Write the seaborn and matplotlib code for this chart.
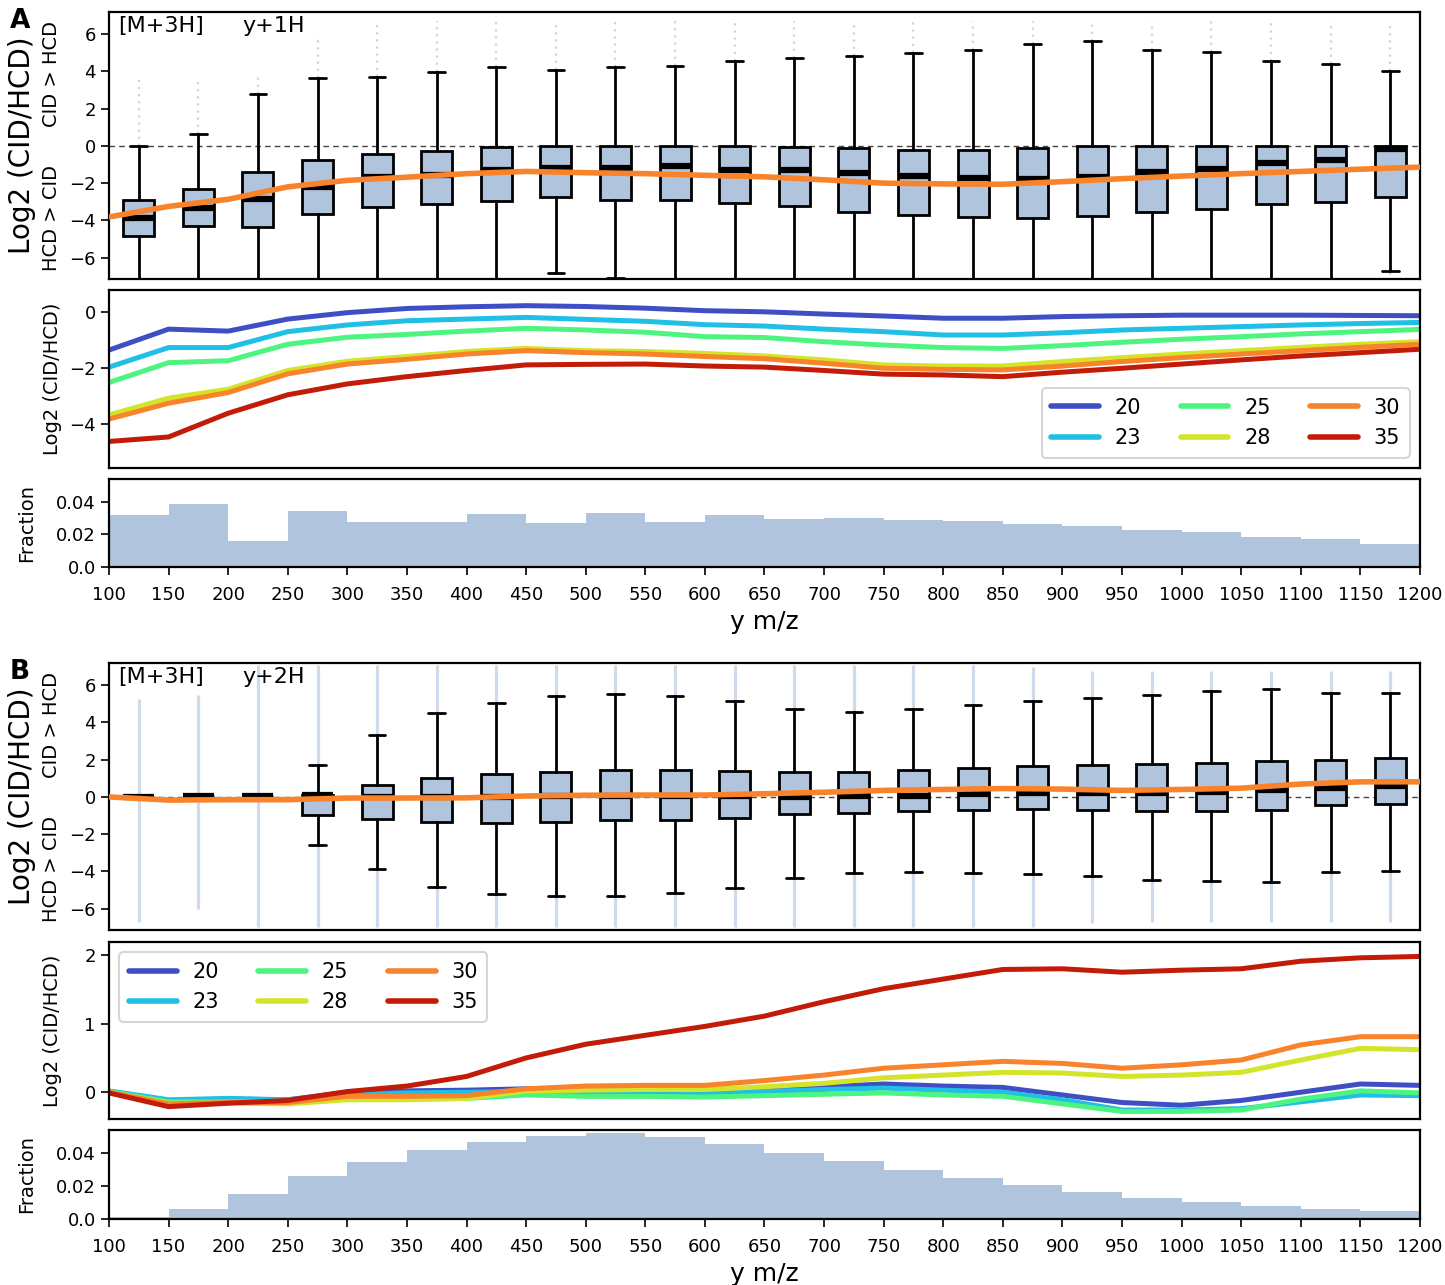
import numpy as np
import pandas as pd
import matplotlib
matplotlib.use("Agg")
import matplotlib.pyplot as plt
import seaborn as sns

sns.set_theme(style="ticks")
plt.rcParams["font.family"] = ["DejaVu Sans"]
plt.rcParams["axes.edgecolor"] = "black"
plt.rcParams["axes.linewidth"] = 1.6
plt.rcParams["text.color"] = "black"
plt.rcParams["axes.labelcolor"] = "black"
plt.rcParams["xtick.color"] = "black"
plt.rcParams["ytick.color"] = "black"

# ---------------------------------------------------------------- data
mz_grid = [100, 150, 200, 250, 300, 350, 400, 450, 500, 550, 600, 650,
           700, 750, 800, 850, 900, 950, 1000, 1050, 1100, 1150, 1200]
bin_edges = mz_grid
bin_centers = [125, 175, 225, 275, 325, 375, 425, 475, 525, 575, 625,
               675, 725, 775, 825, 875, 925, 975, 1025, 1075, 1125, 1175]
energies = ["20", "23", "25", "28", "30", "35"]
ce_colors = ["#3e4fc6", "#1fbfe6", "#4df580", "#d3e52b", "#f8832a", "#c21c08"]

# y+1H: median log2(CID/HCD) per collision energy
a_ce20 = [-1.35, -0.60, -0.67, -0.24, -0.01, 0.14, 0.20, 0.24, 0.21, 0.15, 0.06, 0.02,
          -0.06, -0.13, -0.21, -0.21, -0.15, -0.12, -0.10, -0.10, -0.10, -0.11, -0.12]
a_ce23 = [-1.96, -1.26, -1.26, -0.69, -0.45, -0.30, -0.24, -0.18, -0.25, -0.32, -0.44, -0.49,
          -0.60, -0.69, -0.81, -0.81, -0.73, -0.63, -0.57, -0.51, -0.45, -0.40, -0.36]
a_ce25 = [-2.51, -1.80, -1.73, -1.14, -0.89, -0.79, -0.67, -0.57, -0.63, -0.71, -0.87, -0.90,
          -1.05, -1.17, -1.26, -1.29, -1.19, -1.07, -0.96, -0.87, -0.77, -0.69, -0.61]
a_ce28 = [-3.67, -3.07, -2.75, -2.08, -1.75, -1.58, -1.40, -1.29, -1.37, -1.40, -1.47, -1.56,
          -1.70, -1.88, -1.92, -1.92, -1.76, -1.62, -1.49, -1.37, -1.25, -1.14, -1.05]
a_ce30 = [-3.82, -3.25, -2.87, -2.20, -1.85, -1.68, -1.49, -1.37, -1.44, -1.49, -1.58, -1.66,
          -1.82, -2.00, -2.04, -2.06, -1.92, -1.76, -1.62, -1.49, -1.37, -1.25, -1.14]
a_ce35 = [-4.62, -4.46, -3.61, -2.95, -2.56, -2.30, -2.08, -1.88, -1.86, -1.85, -1.92, -1.96,
          -2.08, -2.21, -2.24, -2.30, -2.14, -2.00, -1.85, -1.70, -1.56, -1.44, -1.32]

# y+2H
b_ce20 = [0.01, -0.12, -0.10, -0.11, 0.00, 0.02, 0.03, 0.05, 0.04, 0.04, 0.04, 0.05,
          0.08, 0.12, 0.09, 0.07, -0.04, -0.15, -0.19, -0.12, 0.00, 0.12, 0.10]
b_ce23 = [0.02, -0.11, -0.09, -0.11, -0.04, -0.01, 0.00, 0.01, -0.01, -0.01, -0.01, 0.01,
          0.04, 0.06, 0.03, 0.00, -0.11, -0.26, -0.26, -0.24, -0.14, -0.04, -0.05]
b_ce25 = [0.01, -0.14, -0.14, -0.14, -0.10, -0.10, -0.09, -0.04, -0.06, -0.06, -0.07, -0.05,
          -0.03, -0.01, -0.04, -0.06, -0.17, -0.28, -0.28, -0.26, -0.10, 0.02, -0.01]
b_ce28 = [0.00, -0.16, -0.16, -0.17, -0.11, -0.11, -0.09, 0.02, 0.03, 0.04, 0.04, 0.08,
          0.13, 0.21, 0.25, 0.29, 0.28, 0.23, 0.25, 0.29, 0.47, 0.64, 0.62]
b_ce30 = [0.00, -0.17, -0.15, -0.15, -0.06, -0.06, -0.05, 0.05, 0.09, 0.10, 0.10, 0.17,
          0.25, 0.35, 0.40, 0.45, 0.42, 0.35, 0.40, 0.47, 0.69, 0.81, 0.81]
b_ce35 = [-0.01, -0.21, -0.16, -0.12, 0.01, 0.09, 0.23, 0.50, 0.70, 0.83, 0.96, 1.11,
          1.32, 1.51, 1.65, 1.79, 1.80, 1.75, 1.78, 1.80, 1.91, 1.96, 1.98]

# fraction of fragments per m/z bin
frac_a = [0.0317, 0.0384, 0.0162, 0.0341, 0.0274, 0.0278, 0.0325, 0.0272, 0.0329, 0.0278, 0.0318,
          0.0292, 0.0300, 0.0288, 0.0284, 0.0266, 0.0250, 0.0227, 0.0213, 0.0185, 0.0173, 0.0142]
frac_b = [0.0010, 0.0061, 0.0154, 0.0258, 0.0347, 0.0420, 0.0467, 0.0502, 0.0520, 0.0495, 0.0453,
          0.0402, 0.0351, 0.0296, 0.0248, 0.0203, 0.0162, 0.0130, 0.0102, 0.0081, 0.0059, 0.0047]

# box statistics per bin (y+1H)
a_whislo = [-7.5, -7.5, -7.5, -7.5, -7.5, -7.5, -7.2, -6.83, -7.1, -7.16, -7.5,
            -7.5, -7.5, -7.5, -7.5, -7.5, -7.5, -7.5, -7.5, -7.5, -7.5, -6.71]
a_q1 = [-4.86, -4.33, -4.37, -3.66, -3.26, -3.10, -2.94, -2.76, -2.88, -2.90, -3.08,
        -3.24, -3.53, -3.70, -3.84, -3.90, -3.79, -3.53, -3.41, -3.12, -2.99, -2.76]
a_med = [-3.88, -3.34, -2.86, -2.21, -1.67, -1.58, -1.30, -1.16, -1.18, -1.09, -1.27,
         -1.31, -1.47, -1.63, -1.72, -1.76, -1.67, -1.41, -1.25, -0.91, -0.73, -0.18]
a_q3 = [-2.90, -2.32, -1.41, -0.74, -0.42, -0.25, -0.04, 0.0, 0.0, 0.0, 0.0,
        -0.04, -0.13, -0.22, -0.22, -0.13, 0.0, 0.0, 0.0, 0.0, 0.0, 0.0]
a_whishi = [0.0, 0.65, 2.79, 3.64, 3.70, 3.95, 4.26, 4.08, 4.26, 4.28, 4.55,
            4.71, 4.84, 4.98, 5.18, 5.49, 5.62, 5.18, 5.04, 4.59, 4.39, 4.02]
a_flier_hi = [3.77, 3.64, 3.90, 5.95, 6.49, 6.70, 6.70, 6.70, 6.70, 6.70, 6.70,
              6.70, 6.70, 6.70, 6.70, 6.70, 6.70, 6.70, 6.70, 6.60, 6.70, 6.67]
a_flier_lo = [-7.3] * 22

# box statistics per bin (y+2H)
b_whislo = [0.02, 0.03, 0.05, -2.56, -3.86, -4.83, -5.23, -5.35, -5.30, -5.19, -4.88,
            -4.38, -4.11, -4.02, -4.09, -4.13, -4.25, -4.45, -4.50, -4.58, -4.02, -3.98]
b_q1 = [0.02, 0.03, 0.05, -0.97, -1.17, -1.35, -1.39, -1.33, -1.26, -1.23, -1.12,
        -0.94, -0.85, -0.77, -0.70, -0.65, -0.68, -0.76, -0.76, -0.72, -0.45, -0.36]
b_med = [0.02, 0.03, 0.05, 0.10, -0.02, -0.02, 0.00, 0.03, 0.04, 0.04, 0.05,
         0.00, 0.05, 0.07, 0.14, 0.23, 0.23, 0.23, 0.27, 0.38, 0.50, 0.56]
b_q3 = [0.02, 0.03, 0.05, 0.12, 0.63, 1.03, 1.21, 1.35, 1.46, 1.44, 1.37,
        1.32, 1.32, 1.42, 1.55, 1.68, 1.73, 1.77, 1.82, 1.91, 1.96, 2.07]
b_whishi = [0.02, 0.03, 0.05, 1.71, 3.33, 4.50, 5.05, 5.41, 5.53, 5.42, 5.17,
            4.74, 4.58, 4.70, 4.94, 5.15, 5.33, 5.48, 5.68, 5.82, 5.59, 5.60]
b_flier_hi = [5.28, 5.46, 7.1, 7.1, 7.1, 7.1, 7.1, 7.1, 7.1, 7.1, 7.1,
              7.1, 7.1, 7.1, 7.1, 7.0, 6.75, 6.75, 6.75, 6.75, 6.75, 6.75]
b_flier_lo = [-6.70, -6.00, -7.0, -7.0, -7.0, -7.0, -7.0, -7.0, -7.0, -7.0, -7.0,
              -7.0, -7.0, -7.0, -7.0, -6.97, -6.8, -6.7, -6.7, -6.7, -6.7, -6.7]

xtick_vals = list(range(100, 1201, 50))

BOX_FILL = "#b0c4de"
ORANGE = "#f8832a"


def ratio_frame(series):
    rows = []
    for ce, vals in zip(energies, series):
        for mz, v in zip(mz_grid, vals):
            rows.append({"mz": mz, "log2": v, "ce": ce})
    return pd.DataFrame(rows)


def draw_boxes(ax, whislo, q1, med, q3, whishi, flo, fhi, dense, ion, frag, letter, mid30):
    # outlier columns
    ls = "solid" if dense else (0, (1, 2.2))
    lw = 2.3 if dense else 1.6
    alpha = 0.6 if dense else 0.7
    ax.vlines(bin_centers, whishi, fhi, colors=BOX_FILL, linestyles=ls, lw=lw, alpha=alpha, zorder=1)
    ax.vlines(bin_centers, flo, whislo, colors=BOX_FILL, linestyles=ls, lw=lw, alpha=alpha, zorder=1)
    ax.axhline(0, color="#444444", lw=1, ls=(0, (4, 3)), zorder=1.5)
    stats = [dict(whislo=a, q1=b, med=c, q3=d, whishi=e, fliers=[])
             for a, b, c, d, e in zip(whislo, q1, med, q3, whishi)]
    ax.bxp(stats, positions=bin_centers, widths=26, capwidths=14, patch_artist=True,
           showfliers=False, manage_ticks=False,
           boxprops=dict(facecolor=BOX_FILL, edgecolor="black", linewidth=2),
           medianprops=dict(color="black", linewidth=4.5, solid_capstyle="butt"),
           whiskerprops=dict(color="black", linewidth=2),
           capprops=dict(color="black", linewidth=2), zorder=2)
    sns.lineplot(x=mz_grid, y=mid30, color=ORANGE, lw=4, ax=ax, zorder=5)
    ax.set_xlim(100, 1200)
    ax.set_ylim(-7.15, 7.2)
    ax.set_yticks([-6, -4, -2, 0, 2, 4, 6])
    ax.tick_params(axis="x", bottom=False, labelbottom=False)
    ax.tick_params(axis="y", labelsize=13, length=6, width=1.2)
    ax.set_xlabel("")
    ax.set_ylabel("")
    ax.text(-0.066, 0.5, "Log2 (CID/HCD)", transform=ax.transAxes, rotation=90,
            ha="center", va="center", fontsize=20)
    tr = ax.get_yaxis_transform()
    ax.text(-0.0435, 3.85, "CID > HCD", transform=tr, rotation=90, ha="center", va="center", fontsize=14)
    ax.text(-0.0435, -3.9, "HCD > CID", transform=tr, rotation=90, ha="center", va="center", fontsize=14)
    ax.text(-0.0755, 1.015, letter, transform=ax.transAxes, ha="left", va="top",
            fontsize=19, fontweight="bold")
    ax.text(0.007, 0.985, ion, transform=ax.transAxes, ha="left", va="top", fontsize=16)
    ax.text(0.102, 0.985, frag, transform=ax.transAxes, ha="left", va="top", fontsize=16)


def draw_lines(ax, series, ylim, yticks, legend_loc):
    df = ratio_frame(series)
    sns.lineplot(data=df, x="mz", y="log2", hue="ce", hue_order=energies,
                 palette=dict(zip(energies, ce_colors)), lw=3.6, ax=ax)
    ax.set_xlim(100, 1200)
    ax.set_ylim(*ylim)
    ax.set_yticks(yticks)
    ax.tick_params(axis="x", bottom=False, labelbottom=False)
    ax.tick_params(axis="y", labelsize=13, length=6, width=1.2)
    ax.set_xlabel("")
    ax.set_ylabel("")
    ax.text(-0.043, 0.5, "Log2 (CID/HCD)", transform=ax.transAxes, rotation=90,
            ha="center", va="center", fontsize=14)
    handles, labels = ax.get_legend_handles_labels()
    leg = ax.legend(handles, labels, loc=legend_loc, ncol=3, fontsize=15, frameon=True,
                    fancybox=True, handlelength=2.3, handletextpad=0.75, columnspacing=1.9,
                    labelspacing=0.5, borderpad=0.45, borderaxespad=0.5)
    leg.get_frame().set_edgecolor("#cccccc")
    leg.get_frame().set_linewidth(1.5)
    for ln in leg.get_lines():
        ln.set_linewidth(4)


def draw_hist(ax, frac):
    sns.histplot(x=bin_centers, weights=frac, bins=bin_edges, ax=ax, color=BOX_FILL,
                 alpha=1, edgecolor=BOX_FILL, linewidth=0)
    ax.set_xlim(100, 1200)
    ax.set_ylim(0, 0.054)
    ax.set_yticks([0.0, 0.02, 0.04])
    ax.set_yticklabels(["0.0", "0.02", "0.04"])
    ax.set_xticks(xtick_vals)
    ax.set_xticklabels([str(v) for v in xtick_vals])
    ax.tick_params(axis="both", labelsize=13, length=6, width=1.2)
    ax.tick_params(axis="x", pad=8)
    ax.set_xlabel("")
    ax.set_ylabel("")
    ax.text(-0.063, 0.5, "Fraction", transform=ax.transAxes, rotation=90,
            ha="center", va="center", fontsize=14)
    ax.text(0.5, -0.62, "y m/z", transform=ax.transAxes, ha="center", va="center", fontsize=18)


fig = plt.figure(figsize=(14.45, 12.85), dpi=100)
L, W = 0.0754, 0.9073
ax_a_box = fig.add_axes([L, 0.7829, W, 0.2078])
ax_a_line = fig.add_axes([L, 0.6358, W, 0.1385])
ax_a_hist = fig.add_axes([L, 0.5588, W, 0.0685])
ax_b_box = fig.add_axes([L, 0.2763, W, 0.2078])
ax_b_line = fig.add_axes([L, 0.1292, W, 0.1377])
ax_b_hist = fig.add_axes([L, 0.0514, W, 0.0693])

draw_boxes(ax_a_box, a_whislo, a_q1, a_med, a_q3, a_whishi, a_flier_lo, a_flier_hi,
           False, "[M+3H]", "y+1H", "A", a_ce30)
draw_lines(ax_a_line, [a_ce20, a_ce23, a_ce25, a_ce28, a_ce30, a_ce35],
           (-5.57, 0.8), [-4, -2, 0], "lower right")
draw_hist(ax_a_hist, frac_a)

draw_boxes(ax_b_box, b_whislo, b_q1, b_med, b_q3, b_whishi, b_flier_lo, b_flier_hi,
           True, "[M+3H]", "y+2H", "B", b_ce30)
draw_lines(ax_b_line, [b_ce20, b_ce23, b_ce25, b_ce28, b_ce30, b_ce35],
           (-0.39, 2.19), [0, 1, 2], "upper left")
draw_hist(ax_b_hist, frac_b)

fig.savefig("out.png", dpi=100, facecolor="white")
